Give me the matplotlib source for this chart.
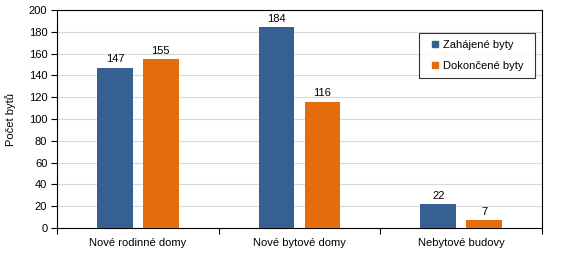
import matplotlib
matplotlib.use("Agg")
import matplotlib.pyplot as plt
from matplotlib.lines import Line2D
import numpy as np

plt.rcParams['font.family'] = ['Liberation Sans', 'DejaVu Sans']

categories = ["Nové rodinné domy", "Nové bytové domy", "Nebytové budovy"]
series_names = ["Zahájené byty", "Dokončené byty"]
zahajene = [147, 184, 22]
dokoncene = [155, 116, 7]
colors = ["#376092", "#E46C0A"]

fs = 8
fig = plt.figure(figsize=(5.65, 2.59), dpi=100)
ax = fig.add_axes([57/565, 31/259, 485/565, 218/259])

x = np.arange(len(categories))
w = 0.222
off = 0.142
b1 = ax.bar(x - off, zahajene, w, color=colors[0], label=series_names[0], zorder=3)
b2 = ax.bar(x + off, dokoncene, w, color=colors[1], label=series_names[1], zorder=3)
for bars, vals in ((b1, zahajene), (b2, dokoncene)):
    for r, v in zip(bars, vals):
        ax.text(r.get_x() + r.get_width()/2, v + 3, str(v), ha='center', va='bottom', fontsize=fs)

ax.set_xlim(-0.5, len(categories) - 0.5)
ax.set_ylim(0, 200)
ax.set_yticks(np.arange(0, 201, 20))
ax.tick_params(axis='y', labelsize=fs, length=4, width=0.8, direction='out', pad=3)
ax.set_xticks(x)
ax.set_xticklabels(categories, fontsize=fs)
ax.tick_params(axis='x', length=0, pad=7)
ax.set_xticks(np.arange(-0.5, len(categories), 1), minor=True)
ax.tick_params(axis='x', which='minor', length=4, width=0.8, direction='out')
ax.grid(axis='y', color='#D9D9D9', linewidth=0.8, zorder=0)
for s in ax.spines.values():
    s.set_color('black')
    s.set_linewidth(0.8)
ax.set_ylabel("Počet bytů", fontsize=fs, labelpad=9)

handles = [Line2D([], [], linestyle='none', marker='s', markersize=3.8,
                  markerfacecolor=c, markeredgecolor=c) for c in colors]
leg = ax.legend(handles, series_names, loc='upper left', mode='expand',
                bbox_to_anchor=(362/485, 151/218, 116/485, 44/218), fontsize=fs,
                frameon=True, fancybox=False, handlelength=1.6,
                handletextpad=0.0, labelspacing=1.05, borderpad=0.6, borderaxespad=0)
leg.get_frame().set_edgecolor('black')
leg.get_frame().set_linewidth(0.8)

fig.savefig("out.png", dpi=100)
